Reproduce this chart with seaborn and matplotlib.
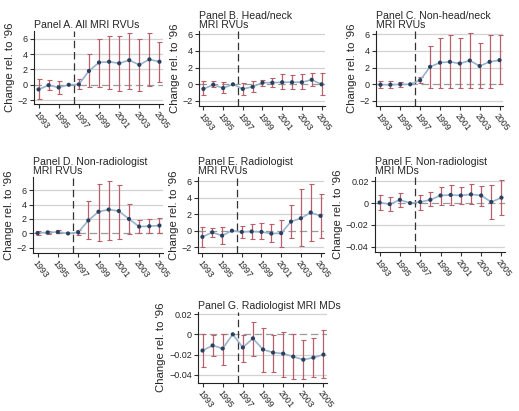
import matplotlib
matplotlib.use("Agg")
import matplotlib.pyplot as plt
import numpy as np
import pandas as pd
import seaborn as sns

sns.set_theme(style="white")
plt.rcParams["font.family"] = ["Liberation Sans", "DejaVu Sans"]

years = list(range(1993, 2006))

titles = [
    "Panel A. All MRI RVUs",
    "Panel B. Head/neck\nMRI RVUs",
    "Panel C. Non-head/neck\nMRI RVUs",
    "Panel D. Non-radiologist\nMRI RVUs",
    "Panel E. Radiologist\nMRI RVUs",
    "Panel F. Non-radiologist\nMRI MDs",
    "Panel G. Radiologist MRI MDs",
]

# Point estimates and 95% confidence bounds, relative to 1996
a_est = [-0.6, -0.05, -0.35, 0.0, 0.05, 1.8, 2.9, 3.0, 2.8, 3.2, 2.6, 3.3, 3.0]
a_lo = [-1.9, -0.7, -1.2, 0.0, -0.5, -0.3, -0.3, -0.5, -0.8, -0.5, -0.8, -0.2, 0.3]
a_hi = [0.7, 0.6, 0.5, 0.0, 0.7, 4.0, 5.9, 6.4, 6.4, 6.8, 5.9, 6.7, 5.6]

b_est = [-0.55, -0.05, -0.45, 0.0, -0.55, -0.3, 0.2, 0.2, 0.25, 0.25, 0.25, 0.55, 0.0]
b_lo = [-1.3, -0.3, -1.0, 0.0, -1.3, -0.9, -0.15, -0.3, -0.6, -0.55, -0.6, -0.2, -1.3]
b_hi = [0.35, 0.35, 0.25, 0.0, 0.15, 0.35, 0.55, 0.8, 1.2, 1.1, 1.2, 1.3, 1.3]

c_est = [-0.05, -0.05, 0.0, 0.0, 0.5, 2.1, 2.6, 2.7, 2.5, 2.85, 2.2, 2.7, 2.9]
c_lo = [-0.4, -0.4, -0.3, 0.0, 0.2, -0.4, -0.4, -0.4, -0.5, -0.4, -0.4, -0.4, 0.0]
c_hi = [0.4, 0.4, 0.3, 0.0, 0.9, 4.6, 5.5, 5.9, 5.5, 6.1, 4.9, 5.9, 5.9]

d_est = [0.05, 0.15, 0.2, 0.0, 0.15, 1.8, 3.0, 3.3, 3.1, 2.0, 0.95, 1.0, 1.1]
d_lo = [-0.15, -0.1, 0.0, 0.0, -0.15, -0.8, -1.0, -0.85, -0.7, -0.1, 0.0, 0.05, 0.1]
d_hi = [0.3, 0.4, 0.45, 0.0, 0.45, 4.5, 6.8, 7.2, 6.7, 4.1, 1.9, 2.0, 2.1]

e_est = [-0.75, -0.2, -0.6, 0.0, -0.15, -0.1, -0.15, -0.35, -0.3, 1.1, 1.5, 2.2, 1.8]
e_lo = [-2.0, -0.8, -1.6, 0.0, -0.9, -0.95, -1.05, -1.35, -1.95, -0.9, -1.8, -1.2, -0.9]
e_hi = [0.5, 0.35, 0.5, 0.0, 0.6, 0.8, 0.9, 0.8, 1.3, 3.1, 5.0, 5.7, 4.5]

f_est = [0.0005, -0.001, 0.003, 0.0, 0.001, 0.003, 0.007, 0.0075, 0.007, 0.008, 0.007, 0.001, 0.005]
f_lo = [-0.006, -0.007, -0.004, 0.0, -0.006, -0.003, -0.002, -0.002, -0.001, -0.001, -0.003, -0.015, -0.011]
f_hi = [0.007, 0.006, 0.0095, 0.0, 0.007, 0.010, 0.015, 0.017, 0.015, 0.018, 0.016, 0.017, 0.021]

g_est = [-0.016, -0.011, -0.014, 0.0, -0.013, -0.004, -0.015, -0.018, -0.019, -0.022, -0.025, -0.023, -0.020]
g_lo = [-0.032, -0.021, -0.030, 0.0, -0.027, -0.021, -0.037, -0.037, -0.042, -0.044, -0.044, -0.042, -0.043]
g_hi = [0.0, -0.001, 0.0005, 0.0, -0.0005, 0.012, 0.006, -0.0005, 0.002, 0.0, -0.006, -0.004, 0.004]

rvu_ticks = [-2, 0, 2, 4, 6]
md_ticks = [-0.04, -0.02, 0, 0.02]
md_ticklabels = ["\u22120.04", "\u22120.02", "0", "0.02"]
year_ticks = [1993, 1995, 1997, 1999, 2001, 2003, 2005]

panels = [
    (a_est, a_lo, a_hi, (-2.5, 7.0), "rvu"),
    (b_est, b_lo, b_hi, (-2.6, 6.4), "rvu"),
    (c_est, c_lo, c_hi, (-2.6, 6.4), "rvu"),
    (d_est, d_lo, d_hi, (-2.7, 7.8), "rvu"),
    (e_est, e_lo, e_hi, (-2.7, 6.5), "rvu"),
    (f_est, f_lo, f_hi, (-0.045, 0.024), "md"),
    (g_est, g_lo, g_hi, (-0.048, 0.022), "md"),
]

# axes boxes in pixels: left, right, top, bottom
W, H = 519, 411
boxes = [
    (34, 163, 31, 104),
    (199, 325, 31, 106),
    (376, 503, 31, 106),
    (33, 163, 177, 253),
    (198, 324, 177, 253),
    (375, 505, 177, 252),
    (198, 327, 312, 383),
]

line_col = "#9ab2cb"
marker_col = "#27415f"
err_col = "#b95f6b"

fig = plt.figure(figsize=(W / 100, H / 100), dpi=100)

for (est, lo, hi, ylim, kind), title, (l, r, t, b) in zip(panels, titles, boxes):
    ax = fig.add_axes([l / W, 1 - b / H, (r - l) / W, (b - t) / H])
    df = pd.DataFrame({"year": years, "est": est, "lo": lo, "hi": hi})

    ticks = rvu_ticks if kind == "rvu" else md_ticks
    for yv in ticks:
        if yv != 0:
            ax.axhline(yv, color="#d2d2d2", lw=0.9, zorder=0)
    ax.axhline(0, color="#9a9a9a", lw=0.9, ls=(0, (6, 3)), zorder=0)
    ax.axvline(1996.5, color="#333333", lw=0.9, ls=(0, (6, 3)), zorder=1)

    # confidence intervals (the 1996 reference year has none)
    err = df[df["year"] != 1996]
    x_e = err["year"].to_numpy()
    y_e = err["est"].to_numpy()
    lo_e = err["lo"].to_numpy()
    hi_e = err["hi"].to_numpy()
    ax.errorbar(x_e, y_e, yerr=np.vstack([y_e - lo_e, hi_e - y_e]),
                fmt="none", ecolor=err_col, elinewidth=0.9, capsize=1.8,
                capthick=0.8, zorder=2)

    sns.lineplot(data=df, x="year", y="est", ax=ax, color=line_col, lw=1.2,
                 zorder=3)
    sns.scatterplot(data=df, x="year", y="est", ax=ax, color=marker_col, s=9,
                    edgecolor="none", zorder=4)

    ax.set_xlim(1992.55, 2005.35)
    ax.set_ylim(*ylim)
    ax.set_xticks(year_ticks)
    ax.set_xticklabels([str(y) for y in year_ticks], rotation=-52,
                       ha="left", va="top", rotation_mode="anchor",
                       fontsize=6.3)
    ax.set_yticks(ticks)
    if kind == "rvu":
        ax.set_yticklabels([str(v).replace("-", "\u2212") for v in ticks],
                           fontsize=6.5)
    else:
        ax.set_yticklabels(md_ticklabels, fontsize=6.5)
    ax.tick_params(axis="both", length=3, width=0.8, pad=1.5, color="#333333",
                   direction="out", bottom=True, left=True)
    ax.tick_params(axis="x", pad=1.0)
    ax.set_xlabel("")
    ax.set_ylabel("Change rel. to '96", fontsize=8.2, labelpad=2)
    ax.set_title(title, fontsize=7.6, loc="left", pad=2, linespacing=0.95)
    for side in ("top", "right"):
        ax.spines[side].set_visible(False)
    for side in ("left", "bottom"):
        ax.spines[side].set_color("#222222")
        ax.spines[side].set_linewidth(0.8)

fig.savefig("out.png", dpi=100)
